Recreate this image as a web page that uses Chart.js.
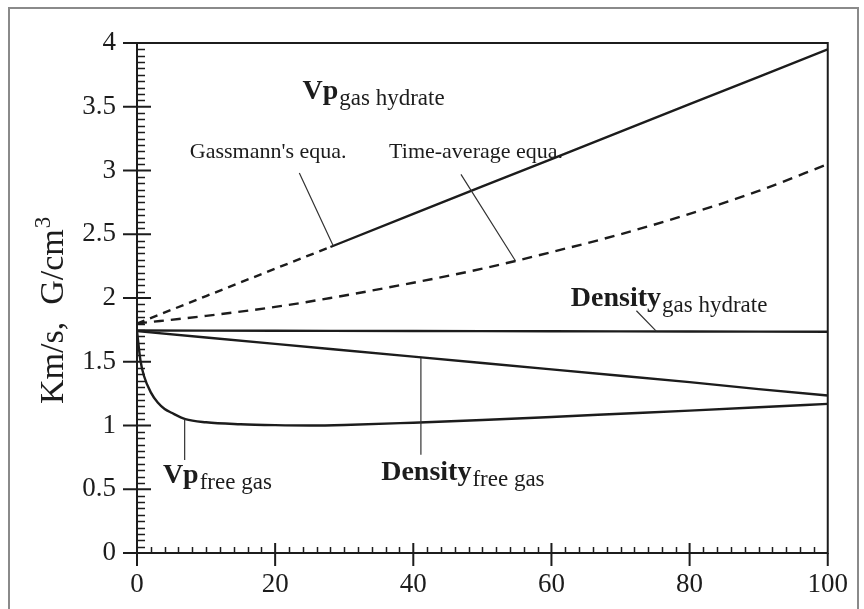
<!DOCTYPE html>
<html lang="en">
  <head>
    <meta charset="UTF-8" />
    <title>Velocity and density vs saturation</title>
    <script src="https://cdn.jsdelivr.net/npm/chart.js@4.4.1/dist/chart.umd.min.js"></script>
    <style>
      html,
      body {
        margin: 0;
        background: #fff;
      }
      #satChart {
        display: block;
      }
    </style>
  </head>
  <body>
    <canvas id="satChart" width="864" height="609"></canvas>

    <script>
      // saturation (%) shared by the hydrate / density curves
      const saturation = [0, 10, 20, 28, 40, 50, 60, 70, 80, 90, 100];
      const vpGassmann = [1.8, 2.015, 2.23, 2.4, 2.66, 2.875, 3.09, 3.305, 3.52, 3.735, 3.95];
      const vpTimeAverage = [1.8, 1.86, 1.93, 2.0, 2.12, 2.23, 2.36, 2.5, 2.66, 2.84, 3.05];
      const densityHydrate = [1.745, 1.744, 1.743, 1.742, 1.741, 1.74, 1.739, 1.738, 1.737, 1.736, 1.735];
      const densityFreeGas = [1.74, 1.69, 1.64, 1.6, 1.54, 1.49, 1.44, 1.39, 1.34, 1.285, 1.235];

      // free gas velocity needs finer steps near zero
      const freeGasSat = [0, 0.5, 1, 2, 3, 4, 5, 7, 10, 15, 20, 25, 30, 40, 50, 60, 70, 80, 90, 100];
      const vpFreeGas = [1.74, 1.51, 1.39, 1.26, 1.18, 1.13, 1.1, 1.05, 1.025, 1.01, 1.003, 1.0, 1.004, 1.022, 1.043, 1.067, 1.092, 1.117, 1.143, 1.17];

      const xTicks = [0, 20, 40, 60, 80, 100];
      const yTicks = [0, 0.5, 1, 1.5, 2, 2.5, 3, 3.5, 4];

      // Gassmann curve is dashed below this saturation
      const gassmannDashEnd = 28;

      // text labels with leader lines, in data units
      const notes = [
        { x: 23.95, y: 3.56, text: "Vp", sub: "gas hydrate", bold: true },
        { x: 7.65, y: 3.1, text: "Gassmann's equa.", line: [23.5, 2.98, 28.4, 2.41] },
        { x: 36.5, y: 3.1, text: "Time-average equa.", line: [46.9, 2.97, 54.8, 2.29] },
        { x: 62.8, y: 1.935, text: "Density", sub: "gas hydrate", bold: true, line: [72.3, 1.9, 75.2, 1.738] },
        { x: 35.35, y: 0.575, text: "Density", sub: "free gas", bold: true, line: [41.1, 1.53, 41.1, 0.77] },
        { x: 3.75, y: 0.55, text: "Vp", sub: "free gas", bold: true, line: [6.9, 1.05, 6.9, 0.73] },
      ];

      const serif = "'Liberation Serif', 'Times New Roman', serif";
      const ink = "#1c1c1c";

      const pts = (xs, ys) => xs.map((x, i) => ({ x: x, y: ys[i] }));

      const lineStyle = {
        borderColor: ink,
        borderWidth: 2.4,
        pointRadius: 0,
        fill: false,
      };

      const data = {
        datasets: [
          {
            ...lineStyle,
            label: "Vp gas hydrate (Gassmann)",
            data: pts(saturation, vpGassmann),
            segment: {
              borderDash: (c) => (c.p1.parsed.x <= gassmannDashEnd ? [8, 6] : undefined),
            },
          },
          {
            ...lineStyle,
            label: "Vp gas hydrate (time-average)",
            data: pts(saturation, vpTimeAverage),
            borderDash: [10, 7],
            cubicInterpolationMode: "monotone",
          },
          {
            ...lineStyle,
            label: "Density gas hydrate",
            data: pts(saturation, densityHydrate),
          },
          {
            ...lineStyle,
            label: "Density free gas",
            data: pts(saturation, densityFreeGas),
          },
          {
            ...lineStyle,
            label: "Vp free gas",
            data: pts(freeGasSat, vpFreeGas),
            cubicInterpolationMode: "monotone",
          },
        ],
      };

      // axes, ticks, frame, labels and y title drawn on top of the lines
      const decorations = {
        id: "decorations",
        beforeDraw(chart) {
          const c = chart.ctx;
          c.save();
          c.fillStyle = "#fff";
          c.fillRect(0, 0, chart.width, chart.height);
          c.strokeStyle = "#8a8a8a";
          c.lineWidth = 2;
          c.strokeRect(9, 8, 849, 700);
          c.restore();
        },
        afterDatasetsDraw(chart) {
          const c = chart.ctx;
          const xs = chart.scales.x;
          const ys = chart.scales.y;
          const a = chart.chartArea;
          const px = (v) => xs.getPixelForValue(v);
          const py = (v) => ys.getPixelForValue(v);

          c.save();
          c.strokeStyle = ink;
          c.lineCap = "butt";

          // box
          c.lineWidth = 2;
          c.beginPath();
          c.moveTo(a.left, a.top);
          c.lineTo(a.right, a.top);
          c.lineTo(a.right, a.bottom);
          c.lineTo(a.left, a.bottom);
          c.closePath();
          c.stroke();

          // minor ticks on y every 0.05, inward
          c.lineWidth = 1.5;
          c.beginPath();
          for (let i = 1; i < 80; i++) {
            if (i % 10 === 0) continue;
            const y = Math.round(py(i * 0.05)) + 0.5;
            c.moveTo(a.left, y);
            c.lineTo(a.left + 8, y);
          }
          // minor ticks on x every 2, inward
          for (let i = 1; i < 50; i++) {
            if (i % 10 === 0) continue;
            const x = Math.round(px(i * 2)) + 0.5;
            c.moveTo(x, a.bottom);
            c.lineTo(x, a.bottom - 6);
          }
          c.stroke();

          // major ticks cross the axes
          c.lineWidth = 2;
          c.beginPath();
          yTicks.forEach((v) => {
            const y = py(v);
            c.moveTo(a.left - 14, y);
            c.lineTo(a.left + (v === 4 || v === 0 ? 0 : 14), y);
          });
          xTicks.forEach((v) => {
            const x = px(v);
            c.moveTo(x, a.bottom + 13);
            c.lineTo(x, a.bottom - (v === 0 || v === 100 ? 0 : 10));
          });
          c.stroke();

          // leader lines
          c.lineWidth = 1.2;
          c.strokeStyle = "#333";
          c.beginPath();
          notes.forEach((n) => {
            if (!n.line) return;
            c.moveTo(px(n.line[0]), py(n.line[1]));
            c.lineTo(px(n.line[2]), py(n.line[3]));
          });
          c.stroke();

          // labels
          c.fillStyle = ink;
          c.textBaseline = "alphabetic";
          c.textAlign = "left";
          notes.forEach((n) => {
            const x = px(n.x);
            const y = py(n.y);
            c.font = n.bold ? "bold 28px " + serif : "22px " + serif;
            c.fillText(n.text, x, y);
            if (n.sub) {
              const w = c.measureText(n.text).width;
              c.font = "23px " + serif;
              c.fillText(n.sub, x + w + 1, y + 6);
            }
          });

          // y axis title, rotated
          c.translate(63, 404);
          c.rotate(-Math.PI / 2);
          c.font = "34px " + serif;
          const main = "Km/s,  G/cm";
          c.fillText(main, 0, 0);
          const mw = c.measureText(main).width;
          c.font = "23px " + serif;
          c.fillText("3", mw + 1, -13);
          c.restore();
        },
      };

      const tickFont = { family: serif, size: 27 };

      const config = {
        type: "line",
        data: data,
        options: {
          responsive: false,
          animation: false,
          layout: { padding: { top: 43, right: 34, left: 0, bottom: 0 } },
          plugins: {
            legend: { display: false },
            tooltip: { enabled: false },
          },
          scales: {
            x: {
              type: "linear",
              min: 0,
              max: 100,
              afterBuildTicks: (s) => {
                s.ticks = xTicks.map((v) => ({ value: v }));
              },
              ticks: { font: tickFont, color: ink, padding: 16, maxRotation: 0 },
              grid: { display: false, drawTicks: false },
              border: { display: false },
              afterFit: (s) => {
                s.height = 56;
              },
            },
            y: {
              type: "linear",
              min: 0,
              max: 4,
              afterBuildTicks: (s) => {
                s.ticks = yTicks.map((v) => ({ value: v }));
              },
              ticks: { font: tickFont, color: ink, padding: 21, callback: (v) => String(v) },
              grid: { display: false, drawTicks: false },
              border: { display: false },
              afterFit: (s) => {
                s.width = 137;
              },
            },
          },
        },
        plugins: [decorations],
      };

      const satChart = new Chart(document.getElementById("satChart"), config);
    </script>
  </body>
</html>
